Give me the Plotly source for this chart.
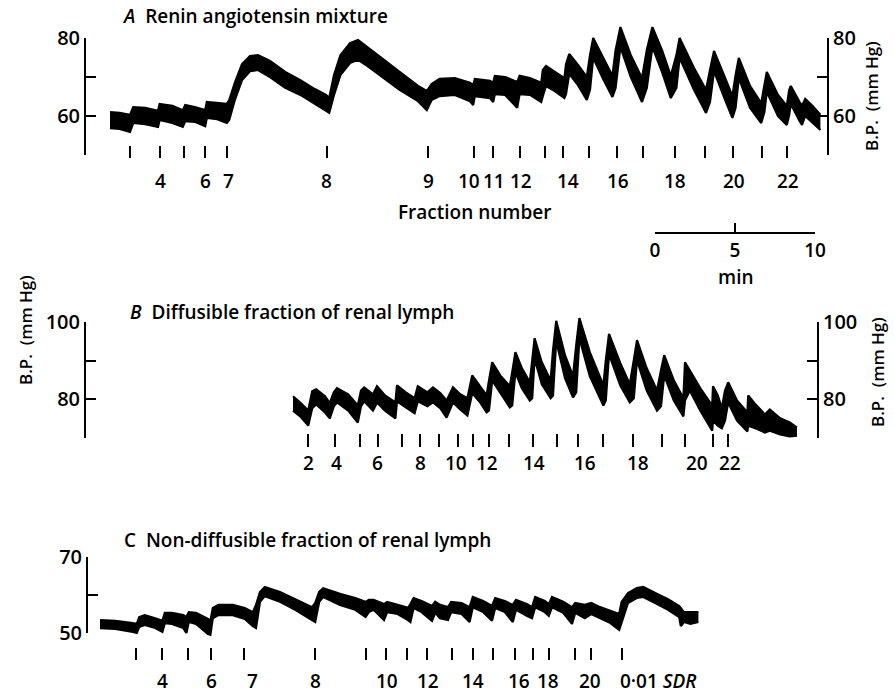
import plotly.graph_objects as go

W, H = 894, 694
FONT = "Open Sans"


def px(x):
    return x / W


def py(y):
    return 1 - y / H


# ---------------- DATA ----------------
# Panel A: renin angiotensin mixture. time (min), BP envelope (mm Hg)
a_time = [0.0, 0.6, 1.25, 1.45, 2.2, 3.0, 3.1, 3.9, 4.55, 4.7, 5.3, 5.95, 6.05, 6.7, 7.3, 7.45, 7.8, 8.25,
          8.75, 9.25, 10.0, 10.95, 11.9, 12.8, 13.5, 13.7, 14.0, 14.4, 15.0, 15.5, 16.1, 16.9, 18.1, 19.25,
          19.8, 20.1, 20.6, 21.55, 22.5, 22.7, 22.8, 23.75, 23.95, 24.05, 24.7, 25.45, 25.6, 26.25, 26.95,
          27.05, 27.25, 27.8, 28.4, 28.5, 28.7, 29.25, 29.8, 30.0, 30.2, 30.8, 31.4, 31.6, 31.9, 32.55,
          33.25, 33.55, 33.9, 34.5, 35.05, 35.4, 35.6, 36.5, 37.25, 37.5, 37.75, 38.45, 38.9, 39.1, 39.3,
          40.0, 40.7, 40.9, 41.05, 41.75, 42.3, 42.45, 42.55, 43.1, 43.25, 43.45, 43.9, 44.4]
a_high = [61.0, 60.8, 60.3, 62.3, 62.1, 61.3, 63.1, 62.6, 61.5, 62.8, 62.3, 61.5, 63.6, 63.3, 63.1, 64.1,
          68.5, 73.3, 75.4, 75.6, 74.1, 71.3, 69.2, 66.9, 65.4, 64.6, 70.5, 75.6, 78.7, 79.5, 77.7, 75.1,
          71.3, 67.7, 66.4, 68.2, 69.5, 69.7, 68.5, 67.9, 69.5, 69.0, 68.5, 70.3, 70.0, 68.7, 70.3, 69.7,
          68.5, 71.8, 72.8, 71.3, 69.7, 73.3, 75.9, 73.1, 70.0, 75.6, 80.0, 75.1, 70.3, 76.9, 82.8, 75.6,
          69.7, 76.9, 82.8, 76.9, 70.3, 75.6, 80.0, 72.3, 66.7, 71.8, 76.7, 69.7, 65.1, 70.5, 74.9, 67.7,
          63.3, 67.9, 71.3, 65.4, 62.6, 66.7, 67.7, 63.6, 62.6, 64.4, 62.6, 60.3]
a_low = [56.9, 56.7, 55.9, 58.2, 57.9, 57.2, 59.0, 58.2, 57.2, 58.7, 58.5, 57.4, 59.5, 59.2, 58.2, 59.0,
         64.1, 69.2, 71.5, 71.8, 70.0, 67.2, 65.4, 63.1, 61.5, 60.8, 65.4, 70.5, 73.6, 74.4, 72.8, 70.3,
         66.7, 63.8, 61.5, 64.1, 65.1, 65.4, 63.8, 62.8, 65.1, 64.6, 63.6, 65.6, 65.4, 62.1, 65.6, 65.4,
         63.6, 65.1, 67.7, 66.4, 64.6, 65.6, 70.8, 67.9, 64.1, 66.7, 74.9, 69.7, 64.9, 67.2, 77.7, 70.0,
         63.6, 67.2, 77.7, 71.3, 64.6, 67.2, 74.9, 66.7, 60.8, 63.6, 71.5, 64.1, 59.5, 62.1, 69.7, 62.1,
         58.2, 61.0, 66.2, 60.0, 57.7, 60.3, 63.1, 58.7, 57.7, 60.0, 58.2, 56.4]
a_frac_time = [1.25, 3.125, 4.625, 5.94, 7.31, 13.56, 19.875, 22.75, 23.94, 25.625, 27.19, 28.31, 29.94,
               31.69, 33.31, 35.31, 37.19, 38.94, 40.75, 42.31]
a_label_time = [3.125, 5.94, 7.375, 13.56, 19.875, 22.45, 24.0, 25.69, 28.625, 31.75, 35.31, 39.0, 42.375]
a_label_text = ["4", "6", "7", "8", "9", "10", "11", "12", "14", "16", "18", "20", "22"]
a_bp_ticks = [50, 60, 70, 80]
a_bp_ticklabels = ["", "60", "", "80"]

# Panel B: diffusible fraction of renal lymph
b_time = [0.0, 0.45, 0.95, 1.2, 1.45, 2.0, 2.3, 2.55, 2.75, 3.45, 4.05, 4.25, 4.45, 5.0, 5.25, 5.75, 6.4,
          6.5, 7.05, 7.6, 7.8, 8.4, 8.75, 9.2, 9.6, 10.0, 10.45, 10.9, 11.2, 11.7, 12.1, 12.25, 12.45,
          12.95, 13.55, 13.7, 13.9, 14.3, 14.8, 14.95, 15.1, 15.55, 16.1, 16.25, 16.45, 17.0, 17.5, 17.7,
          17.9, 18.55, 19.4, 19.55, 19.75, 20.45, 21.05, 21.3, 21.5, 22.1, 22.75, 23.0, 23.2, 23.8, 24.4,
          24.5, 24.8, 25.45, 26.2, 26.25, 26.55, 26.8, 27.0, 27.2, 27.75, 28.4, 28.45, 28.9, 29.5, 29.8,
          30.45, 31.05, 31.5]
b_high = [80.8, 79.2, 77.1, 82.1, 82.6, 80.8, 79.0, 81.8, 82.9, 81.3, 78.4, 82.3, 83.1, 81.3, 83.4, 81.0,
          79.2, 83.6, 81.8, 80.3, 83.4, 81.8, 83.1, 81.6, 79.7, 83.1, 81.3, 80.3, 86.2, 83.4, 81.0, 84.9,
          89.6, 86.2, 83.4, 87.0, 92.2, 88.1, 84.4, 90.1, 95.8, 89.6, 84.9, 92.7, 100.3, 91.4, 86.0, 94.0,
          101.0, 92.2, 83.6, 90.1, 96.9, 89.4, 83.9, 90.1, 95.3, 88.1, 82.3, 87.5, 91.4, 84.9, 80.3, 89.6,
          87.5, 82.9, 78.4, 83.4, 81.0, 77.7, 82.3, 84.4, 79.7, 76.6, 81.0, 78.7, 76.1, 77.4, 75.1, 74.0,
          72.7]
b_low = [77.1, 75.6, 73.2, 77.7, 78.7, 76.6, 75.1, 78.2, 79.2, 77.1, 74.0, 78.2, 79.5, 77.1, 79.2, 77.1,
         75.1, 79.5, 77.9, 76.4, 79.5, 78.2, 79.2, 77.7, 75.3, 79.2, 77.4, 75.8, 81.6, 79.2, 76.6, 77.1,
         84.9, 81.6, 77.9, 78.4, 87.0, 82.9, 79.7, 80.3, 90.6, 83.9, 80.3, 81.0, 95.1, 85.5, 80.5, 81.8,
         95.8, 86.0, 78.4, 79.7, 91.7, 83.6, 79.2, 80.3, 90.1, 82.3, 77.1, 78.2, 86.2, 79.7, 75.6, 79.7,
         82.3, 77.1, 71.9, 74.5, 73.2, 72.5, 74.5, 79.2, 74.5, 71.7, 73.2, 72.5, 71.4, 71.9, 70.9, 70.4,
         70.6]
b_frac_time = [0.94, 2.625, 4.19, 5.31, 6.81, 7.94, 9.125, 10.31, 11.25, 12.25, 13.5, 15.0, 16.5, 17.81,
               19.375, 21.25, 23.06, 24.5, 26.25, 27.19]
b_label_time = [0.94, 2.69, 5.31, 7.94, 10.19, 12.125, 15.06, 18.25, 21.56, 25.25, 27.31]
b_label_text = ["2", "4", "6", "8", "10", "12", "14", "16", "18", "20", "22"]
b_bp_ticks = [70, 80, 90, 100]
b_bp_ticklabels = ["", "80", "", "100"]

# Panel C: non-diffusible fraction of renal lymph
c_time = [0.0, 0.95, 2.05, 2.3, 2.45, 2.8, 3.45, 3.9, 4.05, 4.5, 5.2, 5.4, 5.55, 6.0, 6.75, 6.9, 7.05, 7.4,
          8.3, 9.05, 9.55, 9.75, 10.0, 10.3, 11.25, 12.2, 13.25, 13.45, 13.7, 13.95, 15.0, 15.95, 16.6,
          16.8, 17.1, 17.75, 17.95, 18.6, 19.25, 19.4, 19.6, 20.1, 20.75, 20.95, 21.25, 21.75, 21.95, 22.6,
          23.1, 23.3, 23.95, 24.5, 24.7, 25.3, 25.8, 26.0, 26.7, 27.0, 27.2, 27.8, 28.05, 28.25, 28.95,
          29.5, 29.7, 30.3, 30.7, 31.25, 31.9, 32.45, 32.6, 33.0, 33.55, 33.95, 34.7, 35.5, 36.2, 36.3,
          36.5, 36.9, 37.4]
c_high = [53.4, 53.2, 52.6, 52.4, 54.2, 54.7, 53.9, 53.2, 55.3, 55.3, 54.7, 54.2, 55.5, 55.3, 53.7, 53.2,
          56.6, 57.4, 57.4, 56.6, 55.5, 57.4, 60.8, 62.1, 60.8, 58.9, 56.8, 57.9, 60.8, 61.8, 60.3, 59.2,
          58.2, 58.7, 58.7, 57.6, 58.2, 57.4, 56.6, 57.6, 59.2, 58.4, 57.1, 58.2, 57.4, 56.8, 58.2, 57.9,
          56.8, 59.5, 58.4, 57.1, 59.2, 58.4, 57.4, 58.7, 57.6, 56.8, 59.5, 58.4, 57.6, 59.5, 58.2, 56.8,
          57.9, 57.4, 57.9, 56.8, 55.8, 55.0, 58.2, 60.5, 61.8, 62.1, 60.5, 58.9, 57.1, 56.6, 55.5, 55.5,
          55.5]
c_low = [51.3, 51.1, 50.3, 50.0, 51.6, 52.1, 51.3, 50.3, 52.6, 52.4, 51.3, 50.0, 52.9, 52.4, 49.7, 49.5,
         53.9, 54.7, 54.7, 53.7, 51.8, 51.3, 58.2, 59.7, 58.2, 56.1, 53.4, 52.9, 58.2, 59.5, 57.4, 56.1,
         54.2, 55.5, 56.1, 53.4, 55.5, 55.0, 53.4, 52.9, 56.6, 55.5, 53.2, 55.3, 53.9, 53.4, 55.5, 55.0,
         52.9, 56.8, 55.5, 53.2, 56.6, 55.5, 52.9, 56.1, 54.5, 53.9, 56.8, 55.5, 54.5, 56.8, 55.3, 52.4,
         55.3, 53.9, 55.0, 53.9, 52.6, 50.8, 52.9, 57.9, 59.2, 59.5, 57.9, 56.1, 54.2, 51.8, 52.9, 52.4,
         52.9]
c_frac_time = [2.25, 3.875, 5.5, 6.94, 9.0, 13.44, 16.625, 17.875, 19.19, 20.44, 22.0, 23.31, 24.56, 25.94,
               27.06, 28.06, 29.69, 30.69, 32.625]
c_label_time = [3.875, 6.94, 9.56, 13.44, 17.94, 20.5, 23.31, 26.19, 28.0, 30.625, 34.875]
c_label_text = ["4", "6", "7", "8", "10", "12", "14", "16", "18", "20", "0\u00b701 <i>SDR</i>"]
c_bp_ticks = [50, 60, 70]
c_bp_ticklabels = ["50", "", "70"]

# Time scale bar (min)
scale_ticks = [0, 5, 10]
scale_ticklabels = ["0", "5", "10"]

for arrs in ((a_time, a_high, a_low), (b_time, b_high, b_low), (c_time, c_high, c_low)):
    assert all(len(a) == len(arrs[0]) for a in arrs), [len(a) for a in arrs]

# ---------------- FIGURE ----------------
fig = go.Figure()
layout = {}

PX_PER_MIN = 16
WEIGHT = 600


def ext_range(lo, hi, lo_px, hi_px, bot_px, top_px):
    s = (hi - lo) / (lo_px - hi_px)
    return [lo - (bot_px - lo_px) * s, hi + (hi_px - top_px) * s]


panels = [
    dict(t=a_time, hi=a_high, lo=a_low, frac=a_frac_time, lt=a_label_time, ltxt=a_label_text,
         ticks=a_bp_ticks, ticktext=a_bp_ticklabels,
         x="x", xn="xaxis", yd="y", ydn="yaxis", yl="y2", yln="yaxis2", yr="y3", yrn="yaxis3",
         origin=110, vis=(50, 80), vis_px=(155, 38), dom_px=(175, 12), left=85, right=828,
         tick_px=145, ticklen=12, label_px=181),
    dict(t=b_time, hi=b_high, lo=b_low, frac=b_frac_time, lt=b_label_time, ltxt=b_label_text,
         ticks=b_bp_ticks, ticktext=b_bp_ticklabels,
         x="x2", xn="xaxis2", yd="y4", ydn="yaxis4", yl="y5", yln="yaxis5", yr="y6", yrn="yaxis6",
         origin=293, vis=(70, 100), vis_px=(438, 322), dom_px=(450, 300), left=85, right=818,
         tick_px=433, ticklen=13, label_px=463),
    dict(t=c_time, hi=c_high, lo=c_low, frac=c_frac_time, lt=c_label_time, ltxt=c_label_text,
         ticks=c_bp_ticks, ticktext=c_bp_ticklabels,
         x="x3", xn="xaxis3", yd="y7", ydn="yaxis7", yl="y8", yln="yaxis8", yr=None, yrn=None,
         origin=100, vis=(50, 70), vis_px=(633, 557), dom_px=(648, 545), left=87, right=None,
         tick_px=647, ticklen=12, label_px=681),
]

annotations = []
tickfont = dict(family=FONT, size=20, color="black", weight=WEIGHT)

for p in panels:
    # pressure envelope drawn as filled band
    fig.add_trace(go.Scatter(x=p["t"], y=p["lo"], xaxis=p["x"], yaxis=p["yd"], mode="lines",
                             line=dict(color="black", width=2.2), hoverinfo="skip", showlegend=False))
    fig.add_trace(go.Scatter(x=p["t"], y=p["hi"], xaxis=p["x"], yaxis=p["yd"], mode="lines",
                             line=dict(color="black", width=2.2), fill="tonexty", fillcolor="black",
                             hoverinfo="skip", showlegend=False))
    # dummy traces so the bracket axes render
    for ya in (p["yl"], p["yr"]):
        if ya:
            fig.add_trace(go.Scatter(x=[None], y=[None], xaxis=p["x"], yaxis=ya, mode="markers",
                                     hoverinfo="skip", showlegend=False))

    layout[p["xn"]] = dict(domain=[0, 1], range=[-p["origin"] / PX_PER_MIN, (W - p["origin"]) / PX_PER_MIN],
                           anchor="free", position=py(p["tick_px"]), side="bottom", showline=False,
                           showgrid=False, zeroline=False, ticks="outside", ticklen=p["ticklen"],
                           tickwidth=2, tickcolor="black", tickvals=p["frac"], showticklabels=False,
                           fixedrange=True, automargin=False)
    lo, hi = p["vis"]
    lo_px, hi_px = p["vis_px"]
    layout[p["ydn"]] = dict(domain=[py(p["dom_px"][0]), py(p["dom_px"][1])],
                            range=ext_range(lo, hi, lo_px, hi_px, *p["dom_px"]), visible=False,
                            anchor="free", position=0, fixedrange=True, automargin=False)
    common = dict(range=[lo, hi], anchor="free", showline=True, linecolor="black", linewidth=2,
                  ticks="inside", ticklen=10, tickwidth=2, tickcolor="black", tickvals=p["ticks"],
                  ticktext=p["ticktext"], tickfont=tickfont, showgrid=False, zeroline=False,
                  fixedrange=True, automargin=False)
    layout[p["yln"]] = dict(domain=[py(lo_px), py(hi_px)], position=px(p["left"]), side="left", **common)
    if p["yrn"]:
        layout[p["yrn"]] = dict(overlaying=p["yl"], position=px(p["right"]), side="right", **common)

    for t, txt in zip(p["lt"], p["ltxt"]):
        annotations.append(dict(x=t, y=py(p["label_px"]), xref=p["x"], yref="paper", text=txt,
                                showarrow=False, xanchor="center", yanchor="middle", borderpad=0,
                                font=dict(family=FONT, size=19, color="black", weight=WEIGHT)))

# time scale bar
fig.add_trace(go.Scatter(x=[None], y=[None], xaxis="x4", yaxis="y9", mode="markers",
                         hoverinfo="skip", showlegend=False))
layout["xaxis4"] = dict(domain=[px(655), px(815)], range=[scale_ticks[0], scale_ticks[-1]], anchor="free",
                        position=py(233), side="bottom", showline=True, linecolor="black", linewidth=1.5,
                        ticks="inside", ticklen=9, tickwidth=1.5, tickcolor="black", tickvals=scale_ticks,
                        ticktext=scale_ticklabels,
                        tickfont=dict(family=FONT, size=19, color="black", weight=WEIGHT),
                        showgrid=False, zeroline=False, fixedrange=True, automargin=False)
layout["yaxis9"] = dict(domain=[py(240), py(220)], visible=False, anchor="free", position=0,
                        automargin=False)

titlefont = dict(family=FONT, size=19, color="black", weight=WEIGHT)
bpfont = dict(family=FONT, size=17, color="black", weight=WEIGHT)
texts = [
    ("<i>A</i>  Renin angiotensin mixture", 120, 16, "left", 0, titlefont),
    ("<i>B</i>  Diffusible fraction of renal lymph", 128, 312, "left", 0, titlefont),
    ("C  Non-diffusible fraction of renal lymph", 122, 540, "left", 0, titlefont),
    ("Fraction number", 474, 212, "center", 0, titlefont),
    ("min", 736, 277, "center", 0, titlefont),
    ("B.P.  (mm Hg)", 872, 96, "center", -90, bpfont),
    ("B.P.  (mm Hg)", 877, 372, "center", -90, bpfont),
    ("B.P.  (mm Hg)", 25, 330, "center", -90, bpfont),
]
for txt, x, y, xa, ang, f in texts:
    annotations.append(dict(x=px(x), y=py(y), xref="paper", yref="paper", text=txt, showarrow=False,
                            xanchor=xa, yanchor="middle", textangle=ang, font=f))

fig.update_layout(
    template="none",
    width=W, height=H, margin=dict(l=0, r=0, t=0, b=0, pad=0, autoexpand=False),
    paper_bgcolor="white", plot_bgcolor="rgba(0,0,0,0)",
    showlegend=False, annotations=annotations, **layout,
)

fig.write_html(
    "out.html",
    config={"displayModeBar": False},
    post_script="document.body.style.margin='0px';document.body.style.padding='0px';",
)
